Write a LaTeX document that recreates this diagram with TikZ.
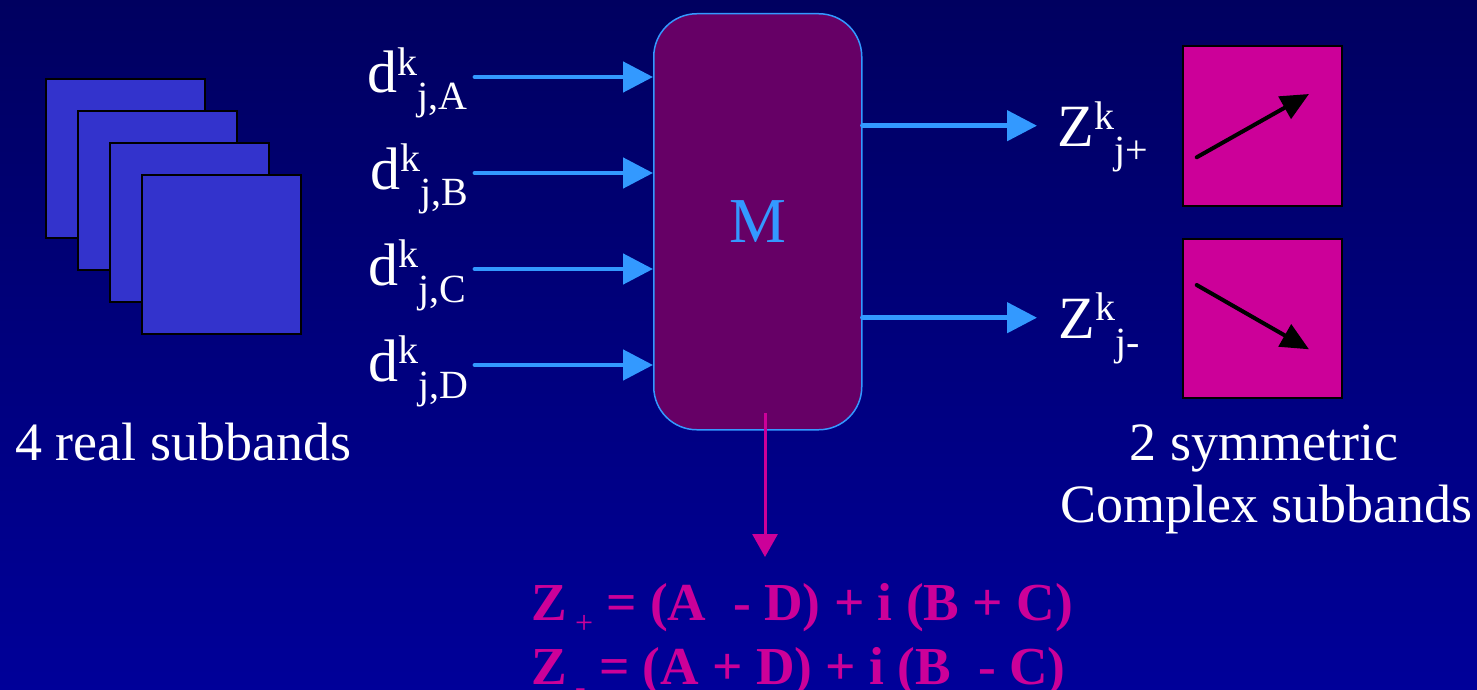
\documentclass[tikz,border=0pt]{standalone}
\usepackage{fontspec}
\setmainfont{Liberation Serif}
\usetikzlibrary{arrows.meta}
\definecolor{bgtop}{RGB}{0,0,96}
\definecolor{bgmid}{RGB}{0,0,140}
\definecolor{bgbot}{RGB}{0,0,153}
\definecolor{sqblue}{RGB}{51,51,204}
\definecolor{arrblue}{RGB}{51,153,255}
\definecolor{mboxfill}{RGB}{102,0,102}
\definecolor{mag}{RGB}{204,0,153}
\newcommand{\SupSub}[3]{{\fontsize{30}{30}\selectfont #1}{\fontsize{20}{20}\selectfont\raisebox{9pt}{#2}\raisebox{-8.5pt}{#3}}}
\begin{document}
\begin{tikzpicture}[x=0.5pt,y=-0.5pt,
  sq/.style={draw=black, line width=1pt, fill=sqblue, minimum width=79.5pt, minimum height=79.5pt, anchor=north west, inner sep=0pt},
  outbox/.style={draw=black, line width=1pt, fill=mag, minimum width=79.75pt, minimum height=79.75pt, anchor=north west, inner sep=0pt},
  lbl/.style={text=white, inner sep=0pt, anchor=base west},
  captext/.style={text=white, inner sep=0pt, anchor=base, font=\fontsize{27}{27}\selectfont},
  bluearrow/.style={draw=arrblue, line width=2.4pt, line cap=round, -{Triangle[length=15pt,width=15pt]}},
  dirarrow/.style={draw=black, line width=2pt, line cap=round, -{Triangle[length=14pt,width=12.5pt]}},
  magarrow/.style={draw=mag, line width=1.5pt, -{Triangle[length=11.5pt,width=12.5pt]}},
  formula/.style={text=mag, inner sep=0pt, anchor=base west, font=\bfseries\fontsize{26.7}{26.7}\selectfont}]
\useasboundingbox (0,0) rectangle (1477,690);
\fill[top color=bgtop, middle color=bgmid, bottom color=bgbot] (0,0) rectangle (1477,690);

% four real subbands
\node[sq] (s1) at (45,78) {};
\node[sq] (s2) at (77,110) {};
\node[sq] (s3) at (109,142) {};
\node[sq] (s4) at (141,174) {};
\node[captext, anchor=base west] (real) at (15,460) {4 real subbands};

% M box
\node[draw=arrblue, line width=0.75pt, fill=mboxfill, rounded corners=21.5pt,
      minimum width=104pt, minimum height=208pt, anchor=north west,
      text=arrblue, font=\fontsize{32}{32}\selectfont] (M) at (653,13) {M};

% input labels
\node[lbl] (dA) at (367,93) {\SupSub{d}{k}{j,A}};
\node[lbl] (dB) at (370,189) {\SupSub{d}{k}{j,B}};
\node[lbl] (dC) at (368,285) {\SupSub{d}{k}{j,C}};
\node[lbl] (dD) at (368,381) {\SupSub{d}{k}{j,D}};
\coordinate (iA) at (475,77);
\coordinate (iB) at (475,173);
\coordinate (iC) at (475,269);
\coordinate (iD) at (475,365);
\draw[bluearrow] (iA) -- (iA -| M.west);
\draw[bluearrow] (iB) -- (iB -| M.west);
\draw[bluearrow] (iC) -- (iC -| M.west);
\draw[bluearrow] (iD) -- (iD -| M.west);

% outputs
\coordinate (oP) at (1037,125.7);
\coordinate (oM) at (1037,317.7);
\draw[bluearrow] (oP -| M.east) -- (oP);
\draw[bluearrow] (oM -| M.east) -- (oM);
\node[lbl] (zP) at (1057,147) {\SupSub{Z}{k}{j+}};
\node[lbl] (zM) at (1058,338) {\SupSub{Z}{k}{j-}};

% complex subbands
\node[outbox] (b1) at (1181.5,45.5) {};
\node[outbox] (b2) at (1181.5,237.5) {};
\coordinate (p1s) at (1196.7,157.3);
\coordinate (p1e) at (1309,94);
\coordinate (p2s) at (1196.7,285);
\coordinate (p2e) at (1309,349.3);
\draw[dirarrow] (p1s) -- (p1e);
\draw[dirarrow] (p2s) -- (p2e);
\node[captext] (sym1) at (1264,460) {2 symmetric};
\node[captext] (sym2) at (1266.5,522) {Complex subbands};

% down arrow and formula
\coordinate (ds) at (765,413);
\coordinate (de) at (765,557);
\draw[magarrow] (ds) -- (de);
\node[formula] (f1) at (531,620) {Z{\fontsize{16}{16}\selectfont\mdseries\raisebox{-6.5pt}{\ +}} = (A\ \ - D) + i (B + C)};
\node[formula] (f2) at (531,684) {Z{\fontsize{16}{16}\selectfont\mdseries\raisebox{-6.5pt}{\ -}} = (A + D) + i (B\ \ - C)};
\end{tikzpicture}
\end{document}
